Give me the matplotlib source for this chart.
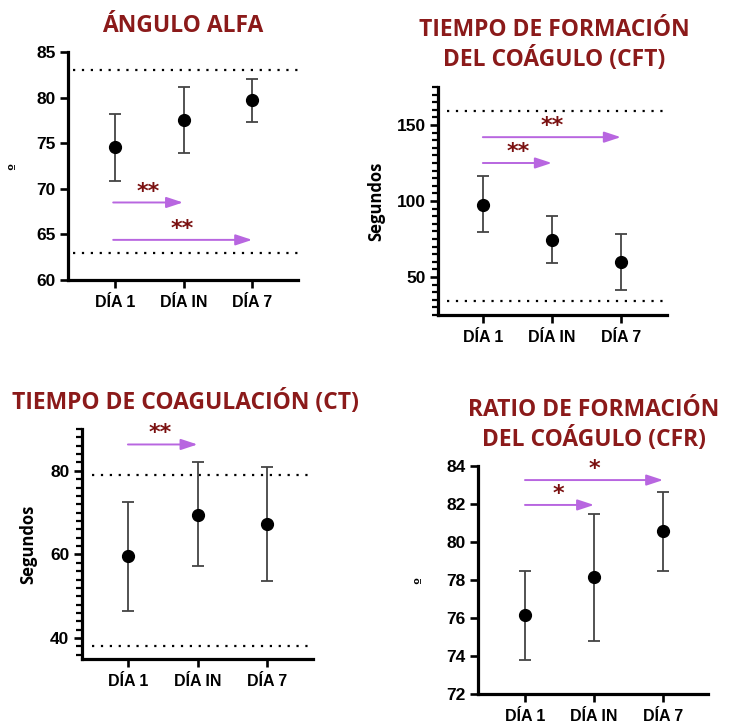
import matplotlib
matplotlib.use("Agg")
import matplotlib.pyplot as plt
from matplotlib.ticker import MultipleLocator

# Data
days = ["DÍA 1", "DÍA IN", "DÍA 7"]

alfa_mean = [74.6, 77.5, 79.7]
alfa_low = [70.9, 73.9, 77.3]
alfa_high = [78.2, 81.2, 82.0]
alfa_ref = [63, 83]

cft_mean = [97.5, 74.5, 59.8]
cft_low = [79.5, 59.3, 41.5]
cft_high = [116.5, 90.0, 78.0]
cft_ref = [34, 159]

ct_mean = [59.6, 69.5, 67.2]
ct_low = [46.4, 57.2, 53.6]
ct_high = [72.6, 82.0, 81.0]
ct_ref = [38, 79]

cfr_mean = [76.15, 78.15, 80.57]
cfr_low = [73.8, 74.8, 78.5]
cfr_high = [78.5, 81.45, 82.62]

title_color = "#8b1a1a"
arrow_color = "#b866e0"
star_color = "#7a1010"

W, H = 729, 727
fig = plt.figure(figsize=(W / 100, H / 100), dpi=100)


def make_ax(left, top, right, bottom):
    return fig.add_axes([left / W, 1 - bottom / H, (right - left) / W, (bottom - top) / H])


def style(ax, ylim, xlim, major, minor=None, ylabel="º", seg=False):
    ax.set_xlim(*xlim)
    ax.set_ylim(*ylim)
    for s in ["top", "right"]:
        ax.spines[s].set_visible(False)
    for s in ["left", "bottom"]:
        ax.spines[s].set_linewidth(2.3)
    ax.set_xticks(range(3))
    ax.set_xticklabels(days, fontsize=11.5, fontweight="bold", family="Liberation Sans")
    ax.yaxis.set_major_locator(MultipleLocator(major))
    if minor:
        ax.yaxis.set_minor_locator(MultipleLocator(minor))
        ax.tick_params(axis="y", which="minor", length=4, width=1.6)
    for lab in ax.get_yticklabels():
        lab.set_fontweight("bold")
        lab.set_family("Liberation Sans")
        lab.set_fontsize(12.5)
    ax.tick_params(axis="both", which="major", length=6, width=1.9, pad=3)
    ax.tick_params(axis="x", pad=5)
    if seg:
        ax.set_ylabel(ylabel, fontsize=12, fontweight="bold", family="Open Sans")
    else:
        ax.set_ylabel(ylabel, fontsize=9, fontweight="bold", family="DejaVu Sans")


def points(ax, mean, low, high):
    x = list(range(3))
    err = [[m - l for m, l in zip(mean, low)], [h - m for m, h in zip(mean, high)]]
    ax.errorbar(x, mean, yerr=err, fmt="o", color="black", ms=8.5,
                ecolor="#444444", elinewidth=1.3, capsize=4, capthick=1.3, zorder=3)


def ref_lines(ax, refs, x0):
    for r in refs:
        ax.hlines(r, x0, ax.get_xlim()[1], colors="black", linestyles=(0, (1, 3)), lw=1.6)


def arrow(ax, x0, x1, y, star, sx, sy, fs=16):
    ax.annotate("", xy=(x1, y), xytext=(x0, y),
                arrowprops=dict(arrowstyle="-|>,head_length=1.0,head_width=0.33",
                                color=arrow_color, lw=1.4, shrinkA=0, shrinkB=0))
    ax.text(sx, sy, star, color=star_color, fontsize=fs, fontweight="bold",
            ha="center", va="center", family="DejaVu Sans")


def title(x, y, text, size=16.5):
    fig.text(x / W, 1 - y / H, text, ha="center", va="center", fontsize=size,
             fontweight="bold", color=title_color, family="Open Sans", linespacing=1.3)


# Panel 1: Ángulo alfa
ax1 = make_ax(68, 52, 298, 280)
style(ax1, (60, 85), (-0.69, 2.67), 5)
points(ax1, alfa_mean, alfa_low, alfa_high)
ref_lines(ax1, alfa_ref, -0.61)
arrow(ax1, -0.03, 0.99, 68.5, "**", 0.48, 69.6)
arrow(ax1, -0.03, 2.0, 64.4, "**", 0.98, 65.6)
ax1.yaxis.set_label_coords(-0.21, 0.5)
title(183, 26, "ÁNGULO ALFA")

# Panel 2: CFT
ax2 = make_ax(438, 87, 667, 315)
style(ax2, (25, 175), (-0.65, 2.67), 50, 5, "Segundos", seg=True)
points(ax2, cft_mean, cft_low, cft_high)
ref_lines(ax2, cft_ref, -0.52)
arrow(ax2, 0, 1.0, 125, "**", 0.51, 132)
arrow(ax2, 0, 2.0, 142, "**", 1.0, 149.5)
ax2.yaxis.set_label_coords(-0.23, 0.5)
title(554, 45, "TIEMPO DE FORMACIÓN\nDEL COÁGULO (CFT)")

# Panel 3: CT
ax3 = make_ax(82, 429, 313, 659)
style(ax3, (35, 90), (-0.66, 2.66), 20, 2, "Segundos", seg=True)
points(ax3, ct_mean, ct_low, ct_high)
ref_lines(ax3, ct_ref, -0.52)
arrow(ax3, 0, 1.0, 86.3, "**", 0.46, 89.0)
ax3.yaxis.set_label_coords(-0.195, 0.5)
title(185, 403, "TIEMPO DE COAGULACIÓN (CT)")

# Panel 4: CFR
ax4 = make_ax(478, 466, 708, 694)
style(ax4, (72, 84), (-0.68, 2.65), 2)
points(ax4, cfr_mean, cfr_low, cfr_high)
arrow(ax4, 0, 1.0, 81.95, "*", 0.48, 82.55)
arrow(ax4, 0, 2.0, 83.26, "*", 1.0, 83.85)
ax4.yaxis.set_label_coords(-0.23, 0.5)
title(594, 425, "RATIO DE FORMACIÓN\nDEL COÁGULO (CFR)")

fig.savefig("out.png", dpi=100, facecolor="white")
